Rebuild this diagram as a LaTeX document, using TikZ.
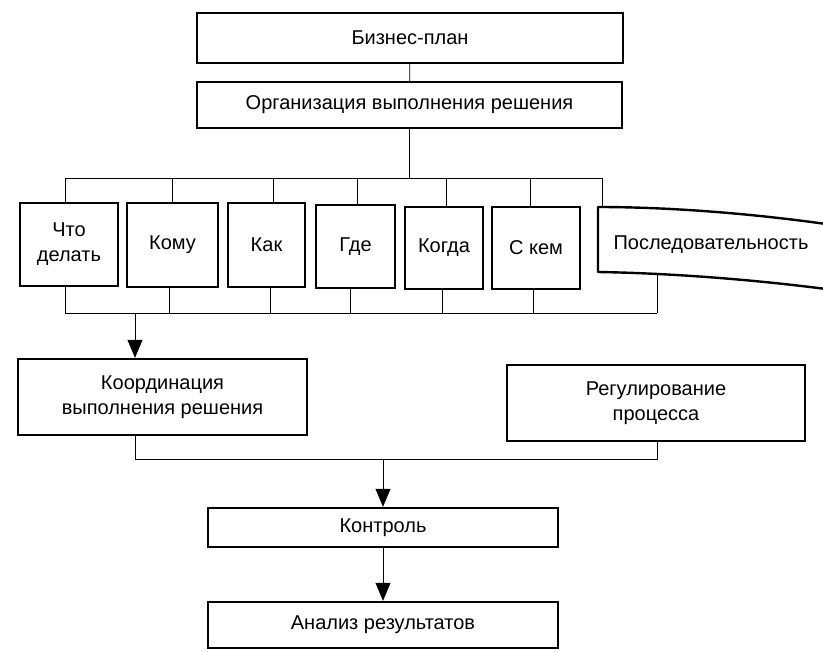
\documentclass[tikz,border=0pt]{standalone}
\usepackage{fontspec}
\setmainfont{Liberation Sans}
\usetikzlibrary{arrows.meta}
\begin{document}
\begin{tikzpicture}[x=1pt,y=-1pt,
  box/.style={draw, line width=2.4pt, inner sep=0pt, align=center,
    font=\fontsize{20}{25}\selectfont},
  wire/.style={line width=0.8pt},
  arr/.style={wire, -{Triangle[length=18pt,width=15pt]}}]
\useasboundingbox (0,0) rectangle (823,652);

% top chain
\node[box, minimum width=426pt, minimum height=50pt] (biz) at (410,38) {Бизнес-план};
\node[box, minimum width=425pt, minimum height=46pt] (org) at (409.5,105) {Организация выполнения решения};

% row of questions
\node[box, minimum width=98pt, minimum height=83pt] (chto) at (69,244.5) {Что\\делать};
\node[box, minimum width=91pt, minimum height=84pt] (komu) at (172.5,245) {Кому};
\node[box, minimum width=77pt, minimum height=84pt] (kak) at (266.5,245) {Как};
\node[box, minimum width=79pt, minimum height=83pt] (gde) at (355.5,246.5) {Где};
\node[box, minimum width=78pt, minimum height=82pt] (kogda) at (444,248) {Когда};
\node[box, minimum width=88pt, minimum height=82pt] (skem) at (536,248) {С кем};

% bent box running off the right edge
\draw[line width=2.4pt, line join=round]
  (826,224) .. controls (740,212) and (660,207) .. (598,207)
  -- (598,272) .. controls (660,273) and (740,278) .. (826,289);
\node[font=\fontsize{20}{25}\selectfont, inner sep=0pt] (posl) at (711,245) {Последовательность};
\coordinate (poslT) at (602,207);
\coordinate (poslB) at (657,274);

% lower boxes
\node[box, minimum width=289pt, minimum height=76pt] (koord) at (162.5,397) {Координация\\выполнения решения};
\node[box, minimum width=298pt, minimum height=76pt] (reg) at (656,403) {Регулирование\\процесса};
\node[box, minimum width=350pt, minimum height=39pt] (kontr) at (383,527.5) {Контроль};
\node[box, minimum width=350pt, minimum height=46pt] (anal) at (383,625) {Анализ результатов};

% upper distribution bus
\coordinate (tb1) at (65,178);
\coordinate (tb2) at (172,178);
\coordinate (tb3) at (273,178);
\coordinate (tb4) at (357,178);
\coordinate (tb5) at (446,178);
\coordinate (tb6) at (530,178);
\coordinate (tb7) at (602,178);
\draw[wire] (biz) -- (org);
\draw[wire] (org.south) -- (org.south |- tb1);
\draw[wire] (tb1) -- (tb7);
\draw[wire] (tb1) -- (tb1 |- chto.north);
\draw[wire] (tb2) -- (tb2 |- komu.north);
\draw[wire] (tb3) -- (tb3 |- kak.north);
\draw[wire] (tb4) -- (tb4 |- gde.north);
\draw[wire] (tb5) -- (tb5 |- kogda.north);
\draw[wire] (tb6) -- (tb6 |- skem.north);
\draw[wire] (tb7) -- (poslT);

% lower collecting bus
\coordinate (bb1) at (65,313);
\coordinate (bb2) at (169,313);
\coordinate (bb3) at (270,313);
\coordinate (bb4) at (350,313);
\coordinate (bb5) at (442,313);
\coordinate (bb6) at (533,313);
\coordinate (bb7) at (657,313);
\coordinate (bbA) at (135,313);
\draw[wire] (bb1) -- (bb7);
\draw[wire] (bb1) -- (bb1 |- chto.south);
\draw[wire] (bb2) -- (bb2 |- komu.south);
\draw[wire] (bb3) -- (bb3 |- kak.south);
\draw[wire] (bb4) -- (bb4 |- gde.south);
\draw[wire] (bb5) -- (bb5 |- kogda.south);
\draw[wire] (bb6) -- (bb6 |- skem.south);
\draw[wire] (bb7) -- (poslB);
\draw[arr] (bbA) -- (bbA |- koord.north);

% merge into control
\coordinate (m1) at (135,459);
\coordinate (m2) at (657,459);
\coordinate (mA) at (383,459);
\draw[wire] (m1 |- koord.south) -- (m1) -- (m2) -- (m2 |- reg.south);
\draw[arr] (mA) -- (kontr.north);
\draw[arr] (kontr.south) -- (anal.north);
\end{tikzpicture}
\end{document}
